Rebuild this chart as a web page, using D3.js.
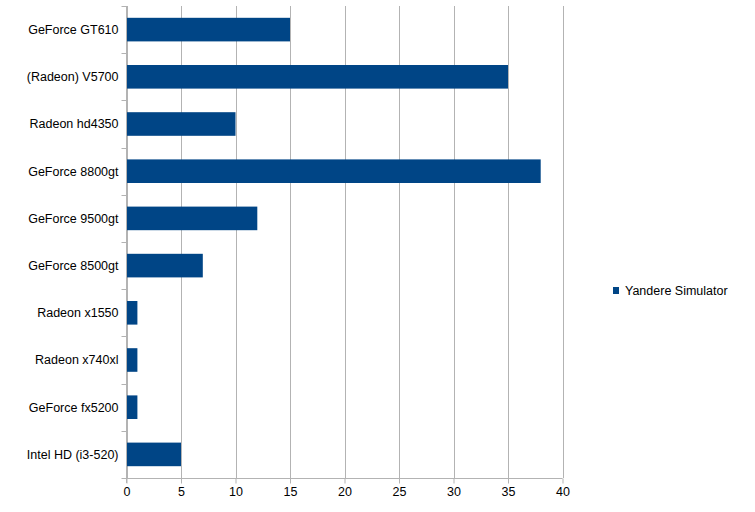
<!DOCTYPE html>
<html>
<head>
<meta charset="utf-8">
<script src="https://cdn.jsdelivr.net/npm/d3@7"></script>
<style>
  body { margin: 0; background: #fff; }
  text { font-family: "Liberation Sans", Arial, sans-serif; font-size: 12.5px; fill: #000; }
</style>
</head>
<body>
<script>
// data
const categories = ["GeForce GT610", "(Radeon) V5700", "Radeon hd4350", "GeForce 8800gt",
  "GeForce 9500gt", "GeForce 8500gt", "Radeon x1550", "Radeon x740xl",
  "GeForce fx5200", "Intel HD (i3-520)"];
const values = [15, 35, 10, 38, 12, 7, 1, 1, 1, 5];
const xTicks = [0, 5, 10, 15, 20, 25, 30, 35, 40];
const seriesName = "Yandere Simulator";

const width = 755, height = 512;
const plotLeft = 126.5, plotRight = 562.5, plotTop = 6, plotBottom = 478;
const gridColor = "#b3b3b3";
const barColor = "#004586";

const svg = d3.select("body").append("svg")
  .attr("width", width)
  .attr("height", height);

// scales
const xScale = d3.scaleLinear().domain([0, 40]).range([plotLeft, plotRight]);
const yScale = d3.scaleBand().domain(categories).range([plotTop, plotBottom]).paddingInner(0.5).paddingOuter(0.25);

// grid
svg.append("g").selectAll("line")
  .data(xTicks)
  .join("line")
  .attr("x1", d => Math.round(xScale(d)) + 0.5)
  .attr("x2", d => Math.round(xScale(d)) + 0.5)
  .attr("y1", plotTop)
  .attr("y2", plotBottom)
  .attr("stroke", gridColor);

// bars
svg.append("g").selectAll("rect")
  .data(values)
  .join("rect")
  .attr("x", xScale(0))
  .attr("y", (d, i) => yScale(categories[i]))
  .attr("width", d => xScale(d) - xScale(0))
  .attr("height", yScale.bandwidth())
  .attr("fill", barColor);

// bottom axis
const bottomAxis = d3.axisBottom(xScale).tickValues(xTicks).tickSize(5).tickPadding(4);
const gx = svg.append("g")
  .attr("transform", "translate(0," + (plotBottom + 0.5) + ")")
  .call(bottomAxis);
gx.select(".domain").attr("stroke", gridColor).attr("d", "M" + plotLeft + ",0H" + plotRight);
gx.selectAll(".tick line").attr("stroke", gridColor);
gx.selectAll(".tick text").style("font-size", "12.5px");

// left axis: ticks at category boundaries
const boundaries = d3.range(categories.length + 1).map(i => plotTop + i * (plotBottom - plotTop) / categories.length);
const gy = svg.append("g");
gy.append("line")
  .attr("x1", plotLeft).attr("x2", plotLeft)
  .attr("y1", plotTop).attr("y2", plotBottom + 5)
  .attr("stroke", gridColor);
gy.selectAll(".bt")
  .data(boundaries)
  .join("line")
  .attr("class", "bt")
  .attr("x1", plotLeft - 5).attr("x2", plotLeft)
  .attr("y1", d => Math.round(d) + 0.5)
  .attr("y2", d => Math.round(d) + 0.5)
  .attr("stroke", gridColor);
gy.selectAll("text")
  .data(categories)
  .join("text")
  .attr("x", plotLeft - 8)
  .attr("y", d => yScale(d) + yScale.bandwidth() / 2)
  .attr("dy", "0.35em")
  .attr("text-anchor", "end")
  .text(d => d);

// legend
const legend = svg.append("g").attr("transform", "translate(613,287)");
legend.append("rect").attr("width", 6).attr("height", 7).attr("fill", barColor);
legend.append("text").attr("x", 12).attr("y", 3.5).attr("dy", "0.35em").text(seriesName);
</script>
</body>
</html>
